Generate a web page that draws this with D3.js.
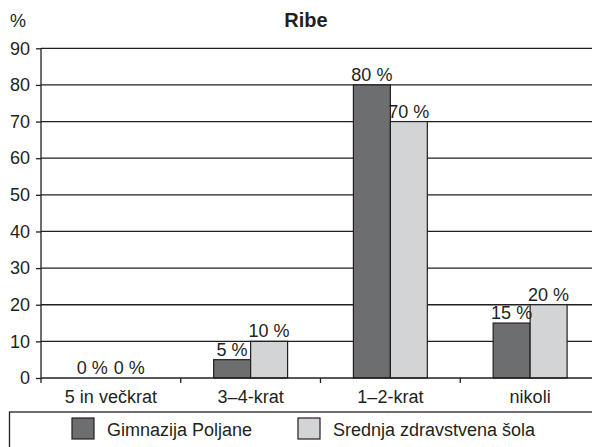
<!DOCTYPE html>
<html>
<head>
<meta charset="utf-8">
<script src="https://cdn.jsdelivr.net/npm/d3@7"></script>
<style>
  html, body { margin: 0; padding: 0; background: #fff; }
  svg { display: block; font-family: "Liberation Sans", Arial, Helvetica, sans-serif; }
</style>
</head>
<body>
<svg id="chart" width="592" height="447"></svg>
<script>
// --- podatki ---
const categories = ["5 in večkrat", "3–4-krat", "1–2-krat", "nikoli"];
const seriesNames = ["Gimnazija Poljane", "Srednja zdravstvena šola"];
const gimnazija = [0, 5, 80, 15];
const zdravstvena = [0, 10, 70, 20];
const yTicks = [0, 10, 20, 30, 40, 50, 60, 70, 80, 90];

const colors = ["#6d6e70", "#d3d4d6"];
const ink = "#231f20";
const fs = "18px";

const svg = d3.select("#chart");
const margin = { left: 41, top: 48.3, right: 600, bottom: 378 };

const x = d3.scaleBand()
  .domain(categories)
  .range([margin.left, margin.right]);

const xSub = d3.scaleBand()
  .domain(seriesNames)
  .range([0, x.bandwidth()])
  .paddingOuter(0.89)
  .paddingInner(0);

const y = d3.scaleLinear()
  .domain([0, 90])
  .range([margin.bottom, margin.top]);

const rows = categories.map((c, i) => ({
  cat: c,
  vals: [
    { s: seriesNames[0], v: gimnazija[i], k: 0 },
    { s: seriesNames[1], v: zdravstvena[i], k: 1 }
  ]
}));

// mreža
svg.append("g")
  .selectAll("line")
  .data(yTicks.filter(d => d > 0))
  .enter().append("line")
    .attr("x1", margin.left)
    .attr("x2", 592)
    .attr("y1", d => y(d))
    .attr("y2", d => y(d))
    .attr("stroke", ink)
    .attr("stroke-width", 1.3);

// stolpci
const groups = svg.append("g")
  .selectAll("g")
  .data(rows)
  .enter().append("g")
    .attr("transform", d => `translate(${x(d.cat)},0)`);

groups.selectAll("rect")
  .data(d => d.vals.filter(v => v.v > 0))
  .enter().append("rect")
    .attr("x", d => xSub(d.s))
    .attr("y", d => y(d.v))
    .attr("width", xSub.bandwidth())
    .attr("height", d => y(0) - y(d.v))
    .attr("fill", d => colors[d.k])
    .attr("stroke", ink)
    .attr("stroke-width", 1.2);

groups.selectAll("text")
  .data(d => d.vals)
  .enter().append("text")
    .attr("x", d => xSub(d.s) + xSub.bandwidth() / 2)
    .attr("y", d => y(d.v) - 4)
    .attr("text-anchor", "middle")
    .attr("fill", ink)
    .style("font-size", fs)
    .text(d => d.v + " %");

// os x
const xAxis = svg.append("g")
  .attr("transform", `translate(0,${y(0)})`)
  .call(d3.axisBottom(x).tickSize(0).tickPadding(12));
xAxis.select(".domain").remove();
xAxis.selectAll("text")
  .attr("fill", ink)
  .style("font-size", fs)
  .style("font-family", "inherit");

svg.append("line")
  .attr("x1", margin.left).attr("x2", 592)
  .attr("y1", y(0)).attr("y2", y(0))
  .attr("stroke", ink).attr("stroke-width", 1.3);

svg.append("g")
  .selectAll("line")
  .data(categories.slice(1))
  .enter().append("line")
    .attr("x1", d => x(d)).attr("x2", d => x(d))
    .attr("y1", y(0)).attr("y2", y(0) + 5)
    .attr("stroke", ink).attr("stroke-width", 1.3);

// os y
const yAxis = svg.append("g")
  .attr("transform", `translate(${margin.left},0)`)
  .call(d3.axisLeft(y).tickValues(yTicks).tickSize(5).tickPadding(6).tickSizeOuter(0));
yAxis.select(".domain").remove();
yAxis.selectAll("line").attr("stroke", ink).attr("stroke-width", 1.3);
yAxis.selectAll("text")
  .attr("fill", ink)
  .style("font-size", fs)
  .style("font-family", "inherit");

svg.append("line")
  .attr("x1", margin.left).attr("x2", margin.left)
  .attr("y1", y(90)).attr("y2", y(0) + 5)
  .attr("stroke", ink).attr("stroke-width", 1.3);

// naslov
svg.append("text")
  .attr("x", 306)
  .attr("y", 27)
  .attr("text-anchor", "middle")
  .attr("fill", ink)
  .style("font-size", "20px")
  .style("font-weight", "bold")
  .text("Ribe");

svg.append("text")
  .attr("x", 10)
  .attr("y", 27)
  .attr("fill", ink)
  .style("font-size", fs)
  .text("%");

// legenda
svg.append("rect")
  .attr("x", 9.5).attr("y", 412)
  .attr("width", 600).attr("height", 60)
  .attr("fill", "none")
  .attr("stroke", ink).attr("stroke-width", 1.3);

const legendX = [72, 298];
const legend = svg.append("g")
  .selectAll("g")
  .data(seriesNames)
  .enter().append("g")
    .attr("transform", (d, i) => `translate(${legendX[i]},418)`);

legend.append("rect")
  .attr("width", 22).attr("height", 21)
  .attr("fill", (d, i) => colors[i])
  .attr("stroke", ink).attr("stroke-width", 1.2);

legend.append("text")
  .attr("x", 35)
  .attr("y", 18)
  .attr("fill", ink)
  .style("font-size", fs)
  .text(d => d);
</script>
</body>
</html>
